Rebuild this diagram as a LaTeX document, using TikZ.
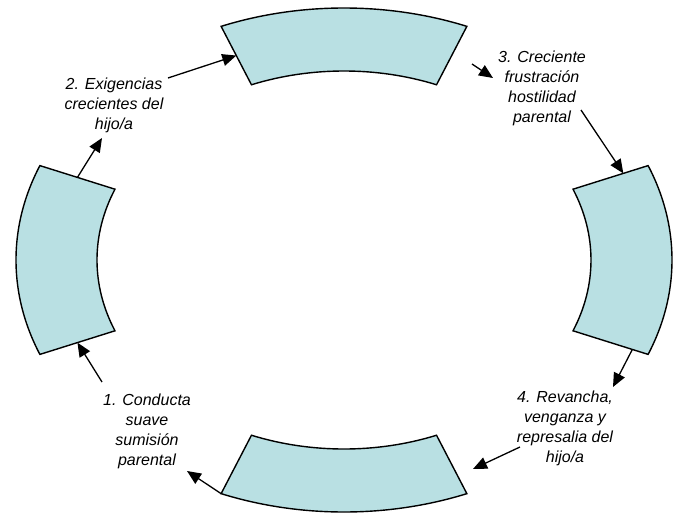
\documentclass[tikz,border=0pt]{standalone}
\usepackage{fontspec}
\setmainfont{Liberation Sans}
\usepackage{xcolor}
\definecolor{partfill}{RGB}{185,224,227}
\usetikzlibrary{calc}
\usetikzlibrary{arrows.meta}

% one curved box of the ring: #1 middle angle, #2 name prefix
\newcommand{\ringpart}[2]{%
\draw[part] (#1-22:\ao pt and \bo pt) coordinate (#2oa)
  arc[start angle=#1-22, end angle=#1+22, x radius=\ao pt, y radius=\bo pt] coordinate (#2ob)
  -- (#1+22:\ai pt and \bi pt) coordinate (#2ib)
  arc[start angle=#1+22, end angle=#1-22, x radius=\ai pt, y radius=\bi pt] coordinate (#2ia)
  -- cycle;}

\begin{document}
\begin{tikzpicture}[x=1pt, y=1pt,
  part/.style={draw=black, line width=1.4pt, fill=partfill, line join=miter},
  flow/.style={line width=1.3pt, -{Triangle[length=14pt, width=12pt]}},
  lab/.style={align=center, font=\fontsize{16}{20}\selectfont\itshape}]
\useasboundingbox (-344, -255) rectangle (334, 260);
% ring sizes
\def\ao{328}
\def\bo{252}
\def\ai{247}
\def\bi{189}

% four boxes
\ringpart{90}{T}
\ringpart{0}{R}
\ringpart{270}{B}
\ringpart{180}{L}

% labels
\node[lab] (lab1) at (-197, -171) {1. Conducta\\suave\\sumisión\\parental};
\node[lab] (lab2) at (-230, 155) {2. Exigencias\\crecientes del\\hijo/a};
\node[lab] (lab3) at (198, 172) {3. Creciente\\frustración\\hostilidad\\parental};
\node[lab] (lab4) at (221, -168) {4. Revancha,\\venganza y\\represalia del\\hijo/a};

% free arrow ends next to the labels
\coordinate (e1) at (-242, -122);
\coordinate (e2) at (-242, 122);
\coordinate (s3) at (-176, 182);
\coordinate (s4) at (128, 196);
\coordinate (e4) at (149, 182);
\coordinate (s5) at (237, 150);
\coordinate (e6) at (269, -127);
\coordinate (s7) at (176, -187);
\coordinate (e7) at (129, -209);
\coordinate (e8) at (-157, -211);

% cycle arrows
\draw[flow] (e1) -- ($(Lib)!0.5!(Lob)$);
\draw[flow] ($(Loa)!0.5!(Lia)$) -- (e2);
\draw[flow] (s3) -- ($(Tob)!0.5!(Tib)$);
\draw[flow] (s4) -- (e4);
\draw[flow] (s5) -- ($(Rib)!0.67!(Rob)$);
\draw[flow] ($(Ria)!0.79!(Roa)$) -- (e6);
\draw[flow] (s7) -- (e7);
\draw[flow] (Boa) -- (e8);
\end{tikzpicture}
\end{document}
